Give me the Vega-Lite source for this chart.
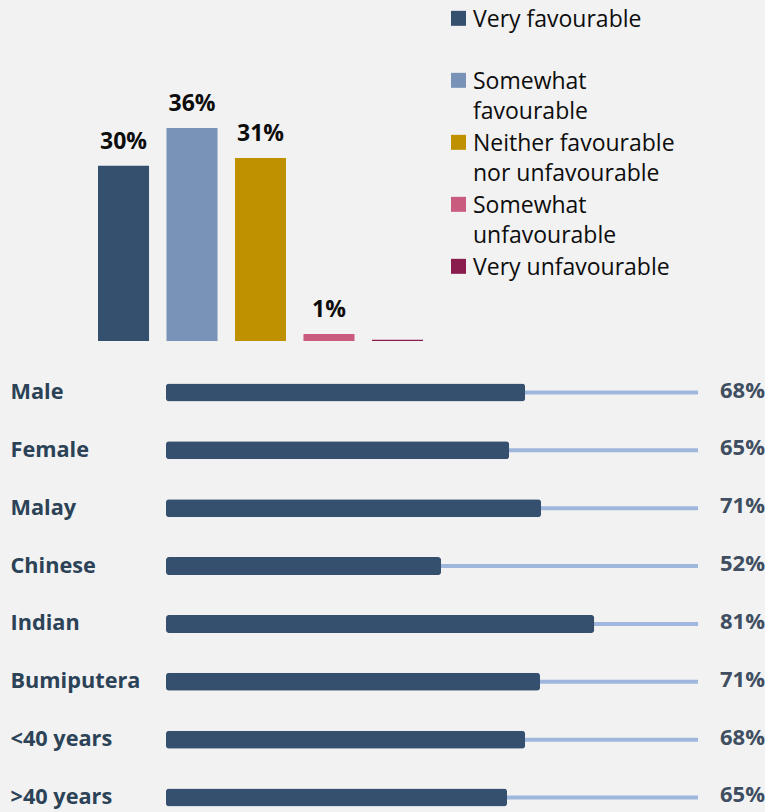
{
  "$schema": "https://vega.github.io/schema/vega-lite/v6.json",
  "background": "#f2f2f2",
  "padding": {"left": 10, "top": 0, "right": 0, "bottom": 0},
  "spacing": 35.5,
  "config": {
    "view": {"stroke": null},
    "font": "Open Sans",
    "style": {"guide-label": {"lineHeight": 30, "dy": -3}}
  },
  "vconcat": [
    {
      "width": 260,
      "height": 341,
      "data": {
        "values": [
          {"response": "Very favourable", "share": 29.6, "label": "30%"},
          {"response": "Somewhat favourable", "share": 36.0, "label": "36%"},
          {"response": "Neither favourable nor unfavourable", "share": 30.9, "label": "31%"},
          {"response": "Somewhat unfavourable", "share": 1.2, "label": "1%"},
          {"response": "Very unfavourable", "share": 0.2, "label": ""}
        ]
      },
      "encoding": {
        "x": {
          "field": "response",
          "type": "nominal",
          "sort": null,
          "axis": null,
          "scale": {"range": [-68, 257], "paddingInner": 0.255, "paddingOuter": 0}
        },
        "y": {
          "field": "share",
          "type": "quantitative",
          "axis": null,
          "scale": {"domain": [0, 57.6], "nice": false}
        }
      },
      "layer": [
        {
          "mark": {"type": "bar"},
          "encoding": {
            "color": {
              "field": "response",
              "type": "nominal",
              "sort": null,
              "scale": {
                "domain": ["Very favourable", "Somewhat favourable", "Neither favourable nor unfavourable", "Somewhat unfavourable", "Very unfavourable"],
                "range": ["#354f6f", "#7993b8", "#bf9000", "#c95b7e", "#8b1d4e"]
              },
              "legend": {
                "title": null,
                "orient": "none",
                "legendX": 281,
                "legendY": 0,
                "padding": 0,
                "symbolType": "M-1,-0.09H1V1.91H-1Z",
                "symbolSize": 225,
                "symbolStrokeWidth": 0,
                "labelFont": "Open Sans",
                "labelFontSize": 23,
                "labelColor": "#0d0d0d",
                "labelBaseline": "top",
                "labelOffset": 3,
                "labelLimit": 400,
                "rowPadding": -24,
                "labelExpr": "datum.label == 'Very favourable' ? ['Very favourable', ''] : datum.label == 'Somewhat favourable' ? ['Somewhat', 'favourable'] : datum.label == 'Neither favourable nor unfavourable' ? ['Neither favourable', 'nor unfavourable'] : datum.label == 'Somewhat unfavourable' ? ['Somewhat', 'unfavourable'] : datum.label"
              }
            }
          }
        },
        {
          "mark": {
            "type": "text",
            "baseline": "alphabetic",
            "dy": -17,
            "fontSize": 23,
            "fontWeight": "bold",
            "font": "Open Sans",
            "color": "#0d0d0d"
          },
          "encoding": {"text": {"field": "label"}}
        }
      ]
    },
    {
      "width": 532,
      "height": 437,
      "data": {
        "values": [
          {"group": "Male", "value": 67.5, "label": "68%"},
          {"group": "Female", "value": 64.5, "label": "65%"},
          {"group": "Malay", "value": 70.5, "label": "71%"},
          {"group": "Chinese", "value": 51.7, "label": "52%"},
          {"group": "Indian", "value": 80.5, "label": "81%"},
          {"group": "Bumiputera", "value": 70.3, "label": "71%"},
          {"group": "<40 years", "value": 67.5, "label": "68%"},
          {"group": ">40 years", "value": 64.1, "label": "65%"}
        ]
      },
      "encoding": {
        "y": {
          "field": "group",
          "type": "nominal",
          "sort": null,
          "scale": {"type": "point", "padding": 0.2766},
          "axis": {
            "title": null,
            "domain": false,
            "ticks": false,
            "grid": false,
            "labelAlign": "left",
            "labelBaseline": "middle",
            "labelPadding": 156,
            "labelOffset": 2,
            "labelFont": "Open Sans",
            "labelFontSize": 21.7,
            "labelFontWeight": "bold",
            "labelColor": "#2c4257",
            "labelLimit": 300
          }
        }
      },
      "layer": [
        {
          "mark": {"type": "rule", "color": "#9fb7dd", "strokeWidth": 4},
          "encoding": {
            "x": {"datum": 0, "type": "quantitative", "axis": null, "scale": {"domain": [0, 100], "nice": false}},
            "x2": {"datum": 100}
          }
        },
        {
          "mark": {"type": "bar", "size": 18, "cornerRadius": 3, "color": "#354f6e"},
          "encoding": {
            "x": {"field": "value", "type": "quantitative"}
          }
        },
        {
          "mark": {
            "type": "text",
            "align": "right",
            "baseline": "middle",
            "dx": 67,
            "dy": -2,
            "fontSize": 22,
            "fontWeight": "bold",
            "font": "Open Sans",
            "color": "#3f4e61"
          },
          "encoding": {
            "x": {"datum": 100, "type": "quantitative"},
            "text": {"field": "label"}
          }
        }
      ]
    }
  ]
}
